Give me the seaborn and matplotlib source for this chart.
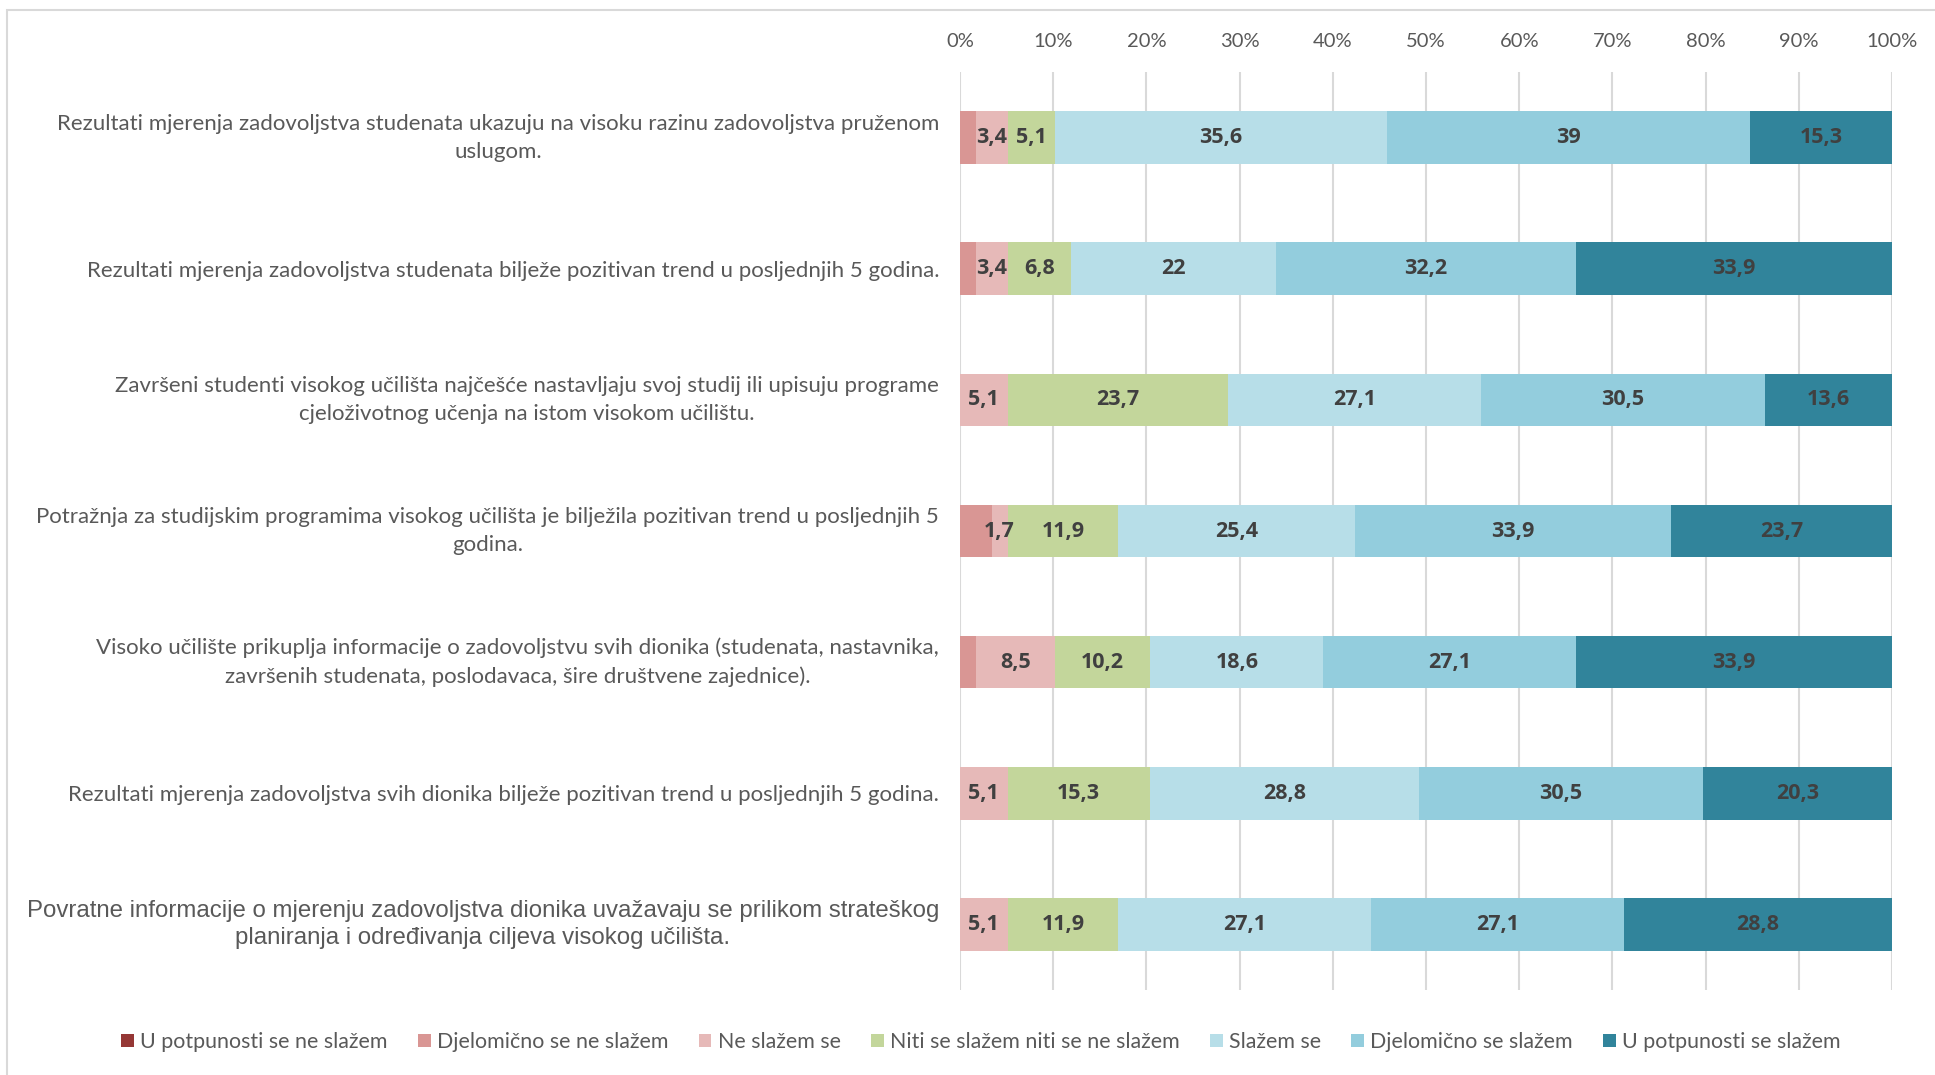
import matplotlib
matplotlib.use("Agg")
import matplotlib.pyplot as plt
from matplotlib.patches import Patch, Rectangle
import seaborn as sns
import pandas as pd
import numpy as np

categories = [
    "Rezultati mjerenja zadovoljstva studenata ukazuju na visoku razinu zadovoljstva pruženom\nuslugom.",
    "Rezultati mjerenja zadovoljstva studenata bilježe pozitivan trend u posljednjih 5 godina.",
    "Završeni studenti visokog učilišta najčešće nastavljaju svoj studij ili upisuju programe\ncjeloživotnog učenja na istom visokom učilištu.",
    "Potražnja za studijskim programima visokog učilišta je bilježila pozitivan trend u posljednjih 5\ngodina.",
    "Visoko učilište prikuplja informacije o zadovoljstvu svih dionika (studenata, nastavnika,\nzavršenih studenata, poslodavaca, šire društvene zajednice).",
    "Rezultati mjerenja zadovoljstva svih dionika bilježe pozitivan trend u posljednjih 5 godina.",
    "Povratne informacije o mjerenju zadovoljstva dionika uvažavaju se prilikom strateškog\nplaniranja i određivanja ciljeva visokog učilišta.",
]

series_names = [
    "U potpunosti se ne slažem",
    "Djelomično se ne slažem",
    "Ne slažem se",
    "Niti se slažem niti se ne slažem",
    "Slažem se",
    "Djelomično se slažem",
    "U potpunosti se slažem",
]

u_potpunosti_ne = [0, 0, 0, 0, 0, 0, 0]
djelomicno_ne = [1.7, 1.7, 0, 3.4, 1.7, 0, 0]
ne_slazem = [3.4, 3.4, 5.1, 1.7, 8.5, 5.1, 5.1]
niti = [5.1, 6.8, 23.7, 11.9, 10.2, 15.3, 11.9]
slazem = [35.6, 22, 27.1, 25.4, 18.6, 28.8, 27.1]
djelomicno_da = [39, 32.2, 30.5, 33.9, 27.1, 30.5, 27.1]
u_potpunosti_da = [15.3, 33.9, 13.6, 23.7, 33.9, 20.3, 28.8]

colors = ["#953735", "#D99694", "#E6B9B8", "#C3D69B", "#B7DEE8", "#93CDDD", "#31849B"]
labelled = [False, False, True, True, True, True, True]

values = [u_potpunosti_ne, djelomicno_ne, ne_slazem, niti, slazem, djelomicno_da, u_potpunosti_da]

sns.set_theme(style="white")
plt.rcParams["font.family"] = ["Lato", "DejaVu Sans"]

fig = plt.figure(figsize=(19.35, 10.75), dpi=100)
ax = fig.add_axes([960 / 1935, 1 - 990 / 1075, (1892 - 960) / 1935, (990 - 72) / 1075])

arr = np.array(values, dtype=float)
cum = np.cumsum(arr, axis=0)
starts = cum - arr

# draw cumulative bars from the last series to the first so segments stack
for i in range(len(series_names) - 1, -1, -1):
    d = pd.DataFrame({"cat": categories, "val": cum[i]})
    sns.barplot(data=d, x="val", y="cat", orient="h", color=colors[i],
                saturation=1, width=0.4, ax=ax, zorder=2, linewidth=0, errorbar=None)

for i in range(len(series_names)):
    if not labelled[i]:
        continue
    for r in range(len(categories)):
        v = arr[i, r]
        if v <= 0:
            continue
        txt = f"{v:g}".replace(".", ",")
        ax.text(starts[i, r] + v / 2, r, txt, ha="center", va="center",
                fontsize=15.5, fontweight="bold", color="#404040", zorder=5,
                family=["Open Sans", "DejaVu Sans"])

ax.set_xlim(0, 100)
ax.set_ylim(6.5, -0.5)
ax.set_xticks(np.arange(0, 101, 10))
ax.set_xticklabels([f"{t}%" for t in range(0, 101, 10)])
ax.xaxis.tick_top()
ax.tick_params(axis="x", length=0, pad=16, labelsize=14.5, labelcolor="#595959")
ax.tick_params(axis="y", length=0, pad=15, labelsize=16, labelcolor="#595959")
for lab in ax.get_yticklabels():
    lab.set_multialignment("center")
    lab.set_linespacing(1.5)
    if "\n" in lab.get_text():
        lab.set_verticalalignment("center")
ylabs = ax.get_yticklabels()
ylabs[-1].set_fontfamily(["Liberation Sans", "DejaVu Sans"])
ylabs[-1].set_fontsize(17.3)
ylabs[-1].set_linespacing(1.3)
ax.set_xlabel("")
ax.set_ylabel("")
ax.grid(axis="x", color="#D9D9D9", linewidth=1.5, zorder=0)
ax.grid(axis="y", visible=False)
for s in ax.spines.values():
    s.set_visible(False)
ax.set_axisbelow(True)

handles = [Patch(facecolor=c, edgecolor="none") for c in colors]
fig.legend(handles, series_names, loc="center", bbox_to_anchor=(981 / 1935, 1 - 1042 / 1075),
           ncol=7, frameon=False, fontsize=15.4, handlelength=0.6, handleheight=0.6,
           handletextpad=0.3, columnspacing=1.4, labelcolor="#595959")

fig.patches.append(Rectangle((7 / 1935, -0.1), 1.2, 1 - 10 / 1075 + 0.1, transform=fig.transFigure,
                             fill=False, edgecolor="#D9D9D9", linewidth=1.5))

fig.savefig("out.png", dpi=100)
